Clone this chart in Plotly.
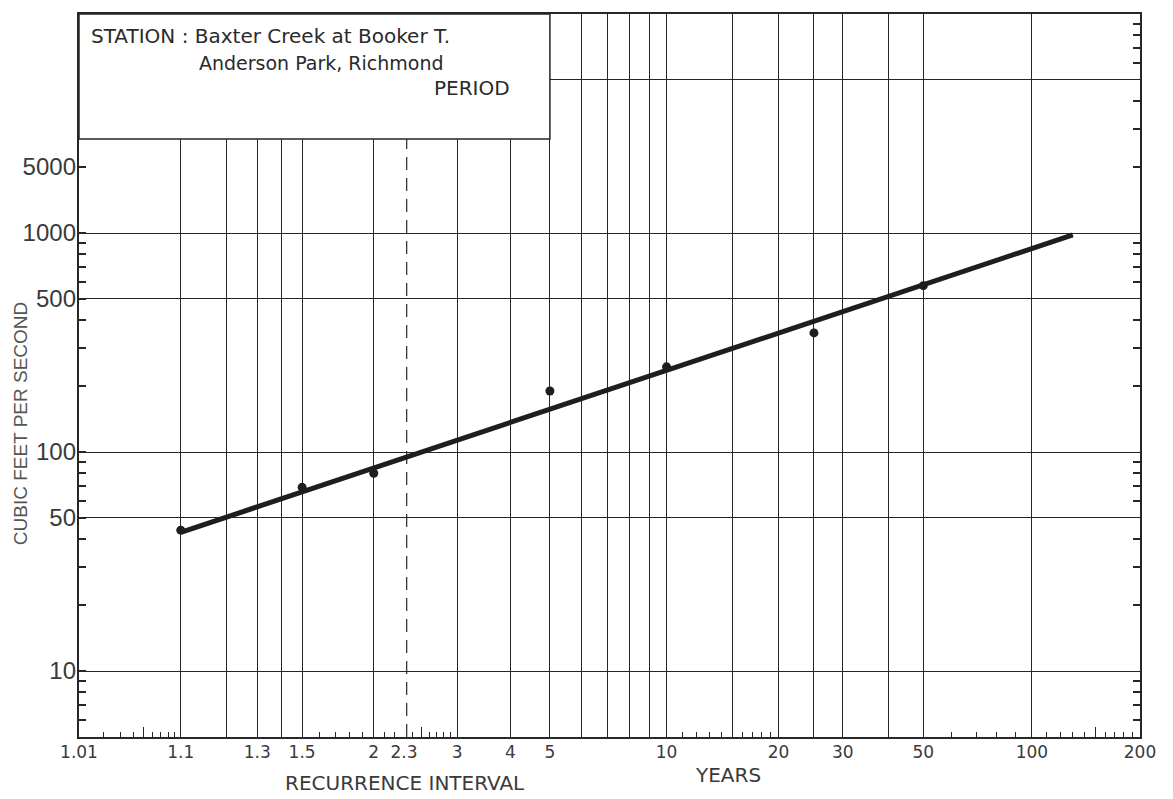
import math
import plotly.graph_objects as go

# ---------------- data ----------------
# observed annual peak discharges (recurrence interval in years, cfs)
OBS_T = [1.1, 1.5, 2, 5, 10, 25, 50]
OBS_Q = [44, 69, 80, 190, 245, 350, 575]

# fitted frequency line end points
FIT_T = [1.1, 130]
FIT_Q = [43, 980]

# x-axis (recurrence interval) labels
X_LABEL_T = [1.01, 1.1, 1.3, 1.5, 2, 2.3, 3, 4, 5, 10, 20, 30, 50, 100, 200]
X_LABEL_TEXT = ["1.01", "1.1", "1.3", "1.5", "2", "2.3", "3", "4", "5",
                "10", "20", "30", "50", "100", "200"]
# vertical rulings of the probability paper
X_GRID_T = [1.1, 1.2, 1.3, 1.4, 1.5, 2, 3, 4, 5, 6, 7, 8, 9, 10,
            15, 20, 25, 30, 40, 50, 100]
MEAN_ANNUAL_T = 2.33
# small bottom ticks
X_SMALL_T = [1.02, 1.03, 1.04, 1.06, 1.07, 1.08, 1.09,
             1.6, 1.7, 1.8, 1.9, 2.1, 2.2, 2.4, 2.6, 2.7, 2.8, 2.9,
             11, 12, 13, 14, 16, 17, 18, 19,
             60, 70, 80, 90, 110, 120, 130, 140, 160, 170, 180, 190]
X_TALL_T = [1.05, 2.5, 150]
X_RANGE_T = [1.01, 200]

# y-axis (discharge) labels
Y_LABEL_Q = [10, 50, 100, 500, 1000, 2000]
Y_LABEL_TEXT = ["10", "50", "100", "500", "1000", "5000"]
Y_GRID_Q = [10, 50, 100, 500, 1000, 5000]
Y_TICK_LEFT_Q = [6, 7, 8, 9, 20, 30, 40, 60, 70, 80, 90, 200, 300, 400,
                 600, 700, 800, 900, 2000]
Y_TICK_RIGHT_Q = [6, 7, 8, 9, 20, 30, 40, 60, 70, 80, 90, 200, 300, 400,
                  600, 700, 800, 900, 2000, 3000, 4000, 6000, 7000, 8000, 9000]
Y_RANGE_Q = [5, 10000]


def g(t):
    """Gumbel reduced variate for a recurrence interval t."""
    return -math.log(-math.log(1.0 - 1.0 / t))


def gl(ts):
    return [g(t) for t in ts]


XR = [g(X_RANGE_T[0]), g(X_RANGE_T[1])]
YR = [math.log10(Y_RANGE_Q[0]), math.log10(Y_RANGE_Q[1])]

INK = "#262626"
TXT = "#3a3a3a"

fig = go.Figure()

# fitted line
fig.add_trace(go.Scatter(x=gl(FIT_T), y=FIT_Q, mode="lines",
                         line=dict(color="#1e1e1e", width=5),
                         hoverinfo="skip", showlegend=False))
# observed points
fig.add_trace(go.Scatter(x=gl(OBS_T), y=OBS_Q, mode="markers",
                         marker=dict(color="#1e1e1e", size=9),
                         showlegend=False))

# dummy traces so every overlay axis pair has a subplot
for xa, ya in [("x2", "y"), ("x3", "y"), ("x4", "y"),
               ("x", "y2"), ("x", "y3"), ("x", "y4")]:
    fig.add_trace(go.Scatter(x=[None], y=[None], xaxis=xa, yaxis=ya,
                             mode="markers", showlegend=False,
                             hoverinfo="skip"))

common_x = dict(range=XR, zeroline=False, fixedrange=True)
common_y = dict(type="log", range=YR, zeroline=False, fixedrange=True)

fig.update_layout(
    width=1173, height=799,
    margin=dict(l=71, r=41, t=4, b=70),
    paper_bgcolor="white", plot_bgcolor="white",
    showlegend=False,
    xaxis=dict(**common_x, tickmode="array", tickvals=gl(X_GRID_T),
               showticklabels=False, ticks="", showgrid=True,
               gridcolor=INK, gridwidth=1,
               showline=True, linecolor=INK, linewidth=1.5, mirror=True),
    xaxis2=dict(**common_x, overlaying="x", matches="x", anchor="y",
                side="bottom", tickmode="array", tickvals=gl(X_LABEL_T),
                ticktext=X_LABEL_TEXT, ticks="", showgrid=False,
                ticklabelstandoff=3,
                tickfont=dict(family="DejaVu Sans", size=17, color=TXT)),
    xaxis3=dict(**common_x, overlaying="x", matches="x", anchor="y",
                side="bottom", tickmode="array", tickvals=gl(X_SMALL_T),
                ticks="inside", ticklen=5, tickwidth=1, tickcolor=INK,
                showticklabels=False, showgrid=False),
    xaxis4=dict(**common_x, overlaying="x", matches="x", anchor="y",
                side="bottom", tickmode="array", tickvals=gl(X_TALL_T),
                ticks="inside", ticklen=10, tickwidth=1, tickcolor=INK,
                showticklabels=False, showgrid=False),
    yaxis=dict(**common_y, tickmode="array", tickvals=Y_GRID_Q,
               showticklabels=False, ticks="", showgrid=True,
               gridcolor=INK, gridwidth=1,
               showline=True, linecolor=INK, linewidth=1.5, mirror=True),
    yaxis2=dict(**common_y, overlaying="y", matches="y", anchor="x",
                side="left", tickmode="array", tickvals=Y_LABEL_Q,
                ticktext=Y_LABEL_TEXT, ticks="inside", ticklen=7,
                tickwidth=1.5, tickcolor=INK, showgrid=False,
                ticklabelstandoff=2,
                tickfont=dict(family="Liberation Sans Narrow, Liberation Sans",
                              size=24, color=TXT)),
    yaxis3=dict(**common_y, overlaying="y", matches="y", anchor="x",
                side="left", tickmode="array", tickvals=Y_TICK_LEFT_Q,
                ticks="inside", ticklen=7, tickwidth=1.5, tickcolor=INK,
                showticklabels=False, showgrid=False),
    yaxis4=dict(**common_y, overlaying="y", matches="y", anchor="x",
                side="right", tickmode="array", tickvals=Y_TICK_RIGHT_Q,
                ticks="inside", ticklen=7, tickwidth=1.5, tickcolor=INK,
                showticklabels=False, showgrid=False),
)

# mean annual flood (2.33-yr) dashed ruling
fig.add_shape(type="line", xref="x", yref="paper",
              x0=g(MEAN_ANNUAL_T), x1=g(MEAN_ANNUAL_T), y0=0, y1=1,
              line=dict(color=INK, width=1.2, dash="13px,8px"),
              layer="between")

# station title block (covers the rulings in the upper left)
fig.add_shape(type="rect", xref="x", yref="paper",
              x0=XR[0], x1=g(5), y0=0.827, y1=1.0,
              fillcolor="white", line=dict(color=INK, width=1.5),
              layer="above")

fig.add_annotation(xref="paper", yref="paper", x=0.009, y=0.969,
                   xanchor="left", yanchor="middle", showarrow=False,
                   text="STATION : Baxter Creek at Booker T.",
                   font=dict(family="DejaVu Sans", size=20, color="#2a2a2a"))
fig.add_annotation(xref="paper", yref="paper", x=0.111, y=0.932,
                   xanchor="left", yanchor="middle", showarrow=False,
                   text="Anderson Park, Richmond",
                   font=dict(family="DejaVu Sans", size=19, color="#2a2a2a"))
fig.add_annotation(xref="paper", yref="paper", x=0.333, y=0.897,
                   xanchor="left", yanchor="middle", showarrow=False,
                   text="PERIOD",
                   font=dict(family="DejaVu Sans", size=20, color="#2a2a2a"))

# axis titles
fig.add_annotation(xref="paper", yref="paper", x=0.307, y=-0.064,
                   xanchor="center", yanchor="middle", showarrow=False,
                   text="RECURRENCE INTERVAL",
                   font=dict(family="DejaVu Sans", size=20, color=TXT))
fig.add_annotation(xref="paper", yref="paper", x=0.612, y=-0.052,
                   xanchor="center", yanchor="middle", showarrow=False,
                   text="YEARS",
                   font=dict(family="DejaVu Sans", size=20, color=TXT))
fig.add_annotation(xref="paper", yref="paper", x=-0.0556, y=0.434,
                   xanchor="center", yanchor="middle", showarrow=False,
                   textangle=-90, text="CUBIC FEET PER SECOND",
                   font=dict(family="Liberation Sans", size=19, color="#555555"))

fig.write_html("out.html")
